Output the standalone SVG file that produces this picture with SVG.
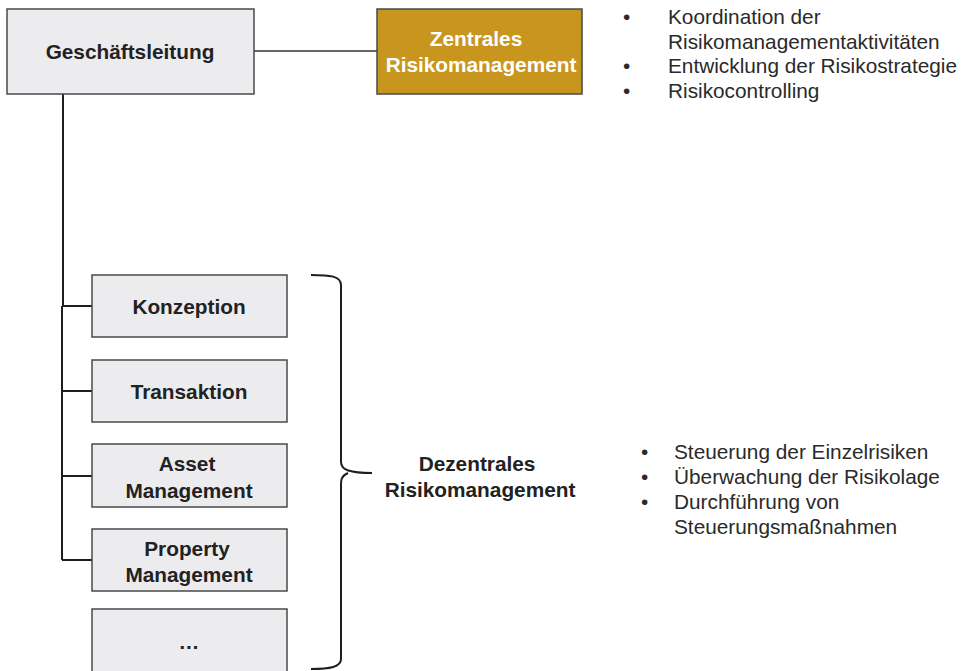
<svg xmlns="http://www.w3.org/2000/svg" width="964" height="671" viewBox="0 0 964 671">
<style>
.box{fill:#ececef;stroke:#4a4a4a;stroke-width:1.5}
.lbl{font-family:"Liberation Sans",Arial,sans-serif;font-weight:bold;font-size:20.8px;fill:#222;text-anchor:middle}
.txt{font-family:"Liberation Sans",Arial,sans-serif;font-size:20.8px;fill:#2a2a2a}
.ln{fill:none;stroke:#1e1e1e;stroke-width:2}
</style>
<rect width="964" height="671" fill="#fff"/>
<g id="connectors">
<line x1="254" y1="51" x2="377" y2="51" stroke="#333" stroke-width="1.5"/>
<path class="ln" d="M63 94 V306 M62 306 V560 M62 306 H92 M62 391 H92 M62 476 H92 M62 560 H92"/>
</g>
<g id="geschaeftsleitung">
<rect class="box" x="7" y="9" width="247" height="85"/>
<text class="lbl" x="130" y="59">Geschäftsleitung</text>
</g>
<g id="zentrales">
<rect x="377" y="9" width="205" height="85" fill="#c8961e" stroke="#4a4a4a" stroke-width="1.5"/>
<text class="lbl" x="476" y="46" style="fill:#fff">Zentrales</text>
<text class="lbl" x="481" y="72" style="fill:#fff">Risikomanagement</text>
</g>
<g id="konzeption">
<rect class="box" x="92" y="275" width="195" height="62"/>
<text class="lbl" x="189" y="314">Konzeption</text>
</g>
<g id="transaktion">
<rect class="box" x="92" y="360" width="195" height="62"/>
<text class="lbl" x="189" y="399">Transaktion</text>
</g>
<g id="asset">
<rect class="box" x="92" y="444" width="195" height="63"/>
<text class="lbl" x="187" y="471">Asset</text>
<text class="lbl" x="189" y="498">Management</text>
</g>
<g id="property">
<rect class="box" x="92" y="529" width="195" height="62"/>
<text class="lbl" x="187" y="556">Property</text>
<text class="lbl" x="189" y="582">Management</text>
</g>
<g id="more">
<rect class="box" x="92" y="609" width="195" height="70"/>
<text class="lbl" x="189" y="649">…</text>
</g>
<g id="brace">
<path class="ln" d="M311 275 C330 275 341 276 341 285 V462 C341 470 350 473 372 473 M348 473 C341 476 341 480 341 486 V659 C341 667 330 669 311 669"/>
</g>
<g id="dezentrales">
<text class="lbl" x="477" y="471">Dezentrales</text>
<text class="lbl" x="480" y="497">Risikomanagement</text>
</g>
<g id="notes-top">
<text class="txt" x="623" y="24">•</text>
<text class="txt" x="668" y="24">Koordination der</text>
<text class="txt" x="668" y="49">Risikomanagementaktivitäten</text>
<text class="txt" x="623" y="73">•</text>
<text class="txt" x="668" y="73">Entwicklung der Risikostrategie</text>
<text class="txt" x="623" y="98">•</text>
<text class="txt" x="668" y="98">Risikocontrolling</text>
</g>
<g id="notes-bottom">
<text class="txt" x="641" y="459">•</text>
<text class="txt" x="674" y="459">Steuerung der Einzelrisiken</text>
<text class="txt" x="641" y="484">•</text>
<text class="txt" x="674" y="484">Überwachung der Risikolage</text>
<text class="txt" x="641" y="509">•</text>
<text class="txt" x="674" y="509">Durchführung von</text>
<text class="txt" x="674" y="534">Steuerungsmaßnahmen</text>
</g>
</svg>
